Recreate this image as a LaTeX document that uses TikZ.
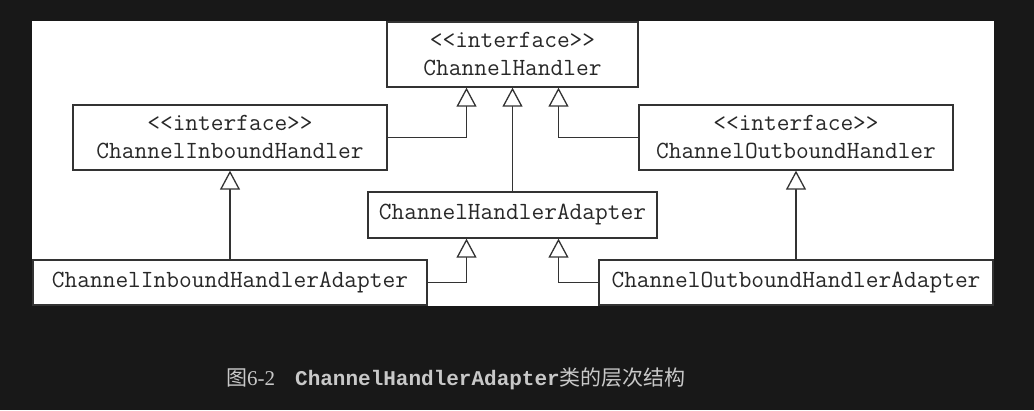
\documentclass[tikz,border=0pt]{standalone}
\usepackage{fontspec}
\setmainfont{Liberation Serif}
\newfontfamily\captionmono{Liberation Mono}
\newfontfamily\cjk{Noto Sans CJK SC}
\usetikzlibrary{arrows.meta,positioning}
\definecolor{pageDark}{RGB}{24,24,24}
\definecolor{boxLine}{RGB}{51,51,51}
\definecolor{boxText}{RGB}{40,40,40}
\definecolor{captionGray}{RGB}{200,200,200}
\tikzset{
  classbox/.style={draw=boxLine, line width=1.3pt, fill=white, text=boxText, inner sep=0pt,
    align=center, font=\ttfamily\fontsize{24.7}{28}\selectfont},
  gen/.style={boxLine, line width=1.3pt, -{Triangle[open, fill=white, width=20pt, length=19pt]}}
}
\begin{document}
\begin{tikzpicture}[x=1pt, y=-1pt]
\useasboundingbox (0,0) rectangle (1034,410);
\fill[pageDark] (0,0) rectangle (1034,410);
\fill[white] (32,21) rectangle (994,306);
% classes
\node[classbox, minimum width=251pt, minimum height=65pt] (handler) at (512.5,54.5) {<{}<interface>{}>\\ChannelHandler};
\node[classbox, minimum width=314pt, minimum height=65pt] (inbound) at (230,137.5) {<{}<interface>{}>\\ChannelInboundHandler};
\node[classbox, minimum width=314pt, minimum height=65pt] (outbound) at (796,137.5) {<{}<interface>{}>\\ChannelOutboundHandler};
\node[classbox, minimum width=289pt, minimum height=46pt] (adapter) at (512.5,215) {ChannelHandlerAdapter};
\node[classbox, minimum width=394pt, minimum height=45pt] (inadapter) at (230,282.5) {ChannelInboundHandlerAdapter};
\node[classbox, minimum width=394pt, minimum height=45pt] (outadapter) at (796,282.5) {ChannelOutboundHandlerAdapter};
% generalizations
\draw[gen] (inbound.east) -| ([xshift=-46pt]handler.south);
\draw[gen] (adapter.north) -- (handler.south);
\draw[gen] (outbound.west) -| ([xshift=46pt]handler.south);
\draw[gen] (inadapter.north) -- (inbound.south);
\draw[gen] (outadapter.north) -- (outbound.south);
\draw[gen] (inadapter.east) -| ([xshift=-46pt]adapter.south);
\draw[gen] (outadapter.west) -| ([xshift=46pt]adapter.south);
% caption
\node[text=captionGray, font=\fontsize{21}{24}\selectfont] (caption) at (456,379)
  {{\cjk 图}6-2\hspace{20pt}{\captionmono\bfseries ChannelHandlerAdapter}{\cjk 类的层次结构}};
\end{tikzpicture}
\end{document}
